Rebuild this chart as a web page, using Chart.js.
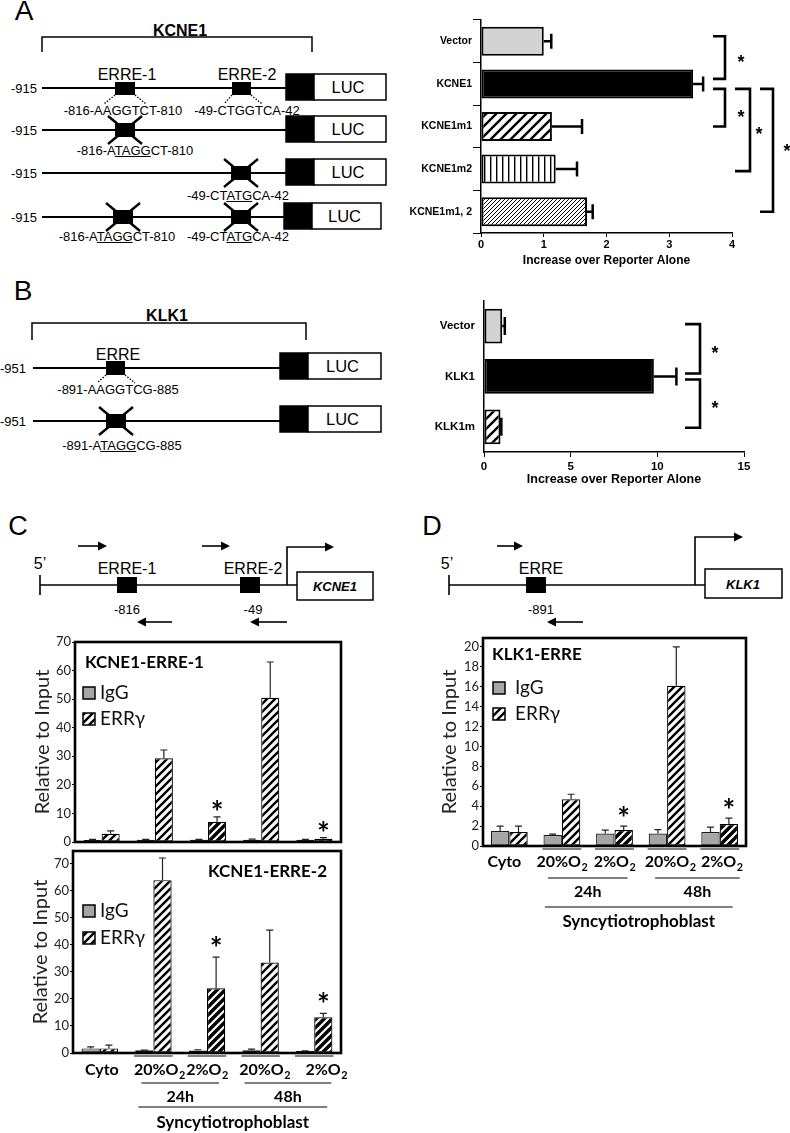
<!DOCTYPE html>
<html><head><meta charset="utf-8">
<script src="https://cdn.jsdelivr.net/npm/chart.js@4.4.1/dist/chart.umd.min.js"></script>
<style>
html,body{margin:0;padding:0;background:#fff;}
#page{position:relative;width:790px;height:1133px;overflow:hidden;background:#fff;}
#page canvas{position:absolute;}
#dia{position:absolute;left:0;top:0;}
</style></head><body>
<div id="page">
<svg id="dia" width="790" height="1133" xmlns="http://www.w3.org/2000/svg"></svg>
<canvas id="cA" width="390" height="270" style="left:400px;top:0px"></canvas>
<canvas id="cB" width="390" height="205" style="left:400px;top:285px"></canvas>
<canvas id="cC1" width="350" height="225" style="left:0px;top:630px"></canvas>
<canvas id="cC2" width="350" height="298" style="left:0px;top:835px"></canvas>
<canvas id="cD" width="390" height="310" style="left:400px;top:625px"></canvas>
</div>
<script>
// ---------------- DATA ----------------
const aCategories = ['Vector', 'KCNE1', 'KCNE1m1', 'KCNE1m2', 'KCNE1m1, 2'];
const aValues = [1.0, 3.38, 1.13, 1.19, 1.69];
const aErrors = [0.12, 0.16, 0.48, 0.34, 0.09];
const aComparisons = [[0, 1], [1, 2], [1, 3], [1, 4]];

const bCategories = ['Vector', 'KLK1', 'KLK1m'];
const bValues = [1.05, 9.8, 0.95];
const bErrors = [0.15, 1.3, 0.05];
const bComparisons = [[0, 1], [1, 2]];

const reporterAxisTitle = 'Increase over Reporter Alone';

const chipCategories = ['Cyto', '20%O2', '2%O2', '20%O2', '2%O2'];
const chipSeries = ['IgG', 'ERRγ'];
const timeGroups = ['24h', '48h'];
const cellType = 'Syncytiotrophoblast';
const chipAxisTitle = 'Relative to Input';

const c1IgG = [0.7, 0.8, 0.8, 0.8, 0.8];
const c1IgGErr = [0.2, 0.1, 0.1, 0.2, 0.1];
const c1ERR = [2.9, 29.3, 7.1, 50.5, 1.1];
const c1ERRErr = [1.0, 2.9, 1.7, 12.5, 0.4];
const c1Sig = [false, false, true, false, true];

const c2IgG = [1.7, 1.0, 0.9, 1.0, 0.7];
const c2IgGErr = [0.6, 0.1, 0.3, 0.4, 0.1];
const c2ERR = [1.7, 64.0, 24.0, 33.5, 13.2];
const c2ERRErr = [1.2, 8.2, 11.5, 12.0, 1.5];
const c2Sig = [false, false, true, false, true];

const dIgG = [1.5, 1.1, 1.25, 1.25, 1.4];
const dIgGErr = [0.5, 0.1, 0.35, 0.4, 0.5];
const dERR = [1.4, 4.7, 1.6, 16.1, 2.2];
const dERRErr = [0.6, 0.5, 0.4, 3.9, 0.6];
const dSig = [false, false, true, false, true];

// ---------------- DIAGRAMS (SVG) ----------------
const NS = 'http://www.w3.org/2000/svg';
const svg = document.getElementById('dia');
const FF = 'Liberation Sans, Arial, sans-serif';
function el(tag, a) { const e = document.createElementNS(NS, tag); for (const k in a) e.setAttribute(k, a[k]); svg.appendChild(e); return e; }
function ln(x1, y1, x2, y2, w = 1.6, dash) { const a = {x1, y1, x2, y2, stroke: '#000', 'stroke-width': w}; if (dash) a['stroke-dasharray'] = dash; return el('line', a); }
function box(x, y, w, h, fill = '#000', sw = 0) { return el('rect', {x, y, width: w, height: h, fill, stroke: '#000', 'stroke-width': sw}); }
function tx(x, y, s, size, o = {}) {
  const base = y + 0.36 * size;
  const t = el('text', {x, y: base, 'font-size': size, 'font-family': FF, 'text-anchor': o.anchor || 'middle',
    'font-weight': o.weight || 'normal', 'font-style': o.style || 'normal', fill: '#000'});
  t.textContent = s;
  if (o.ul) {
    const a = t.getStartPositionOfChar(o.ul[0]).x, b = t.getEndPositionOfChar(o.ul[1]).x;
    ln(a, base + 1.8, b, base + 1.8, 1);
  }
  return t;
}
function xbox(cx, cy) { ln(cx - 17, cy - 14, cx + 17, cy + 14, 2.4); ln(cx - 17, cy + 14, cx + 17, cy - 14, 2.4); box(cx - 10, cy - 7, 20, 14); }
function luc(x, y, w2 = 72) { box(x, y - 13, 28, 26, '#000', 1.5); box(x + 28, y - 13, w2, 26, '#fff', 1.5); tx(x + 28 + w2 / 2 - 2, y, 'LUC', 16.5); }
function arrowR(x1, x2, y) { ln(x1, y, x2 - 6, y, 1.6); el('polygon', {points: `${x2},${y} ${x2 - 9},${y - 4.5} ${x2 - 9},${y + 4.5}`, fill: '#000'}); }
function arrowL(x1, x2, y) { ln(x1, y, x2 + 6, y, 1.6); el('polygon', {points: `${x2},${y} ${x2 + 9},${y - 4.5} ${x2 + 9},${y + 4.5}`, fill: '#000'}); }
function dots(x1, y1, x2, y2) { ln(x1, y1, x2, y2, 1.3, '1.5,1.5'); }

// Panel A diagram
tx(24, 10, 'A', 28);
tx(180, 30, 'KCNE1', 16, {weight: 'bold'});
el('path', {d: 'M42,52 V37 H312 V52', fill: 'none', stroke: '#000', 'stroke-width': 1.5});
[88, 130, 173, 217].forEach((y, i) => {
  tx(37, y, '-915', 13, {anchor: 'end'});
  ln(42, y, 286, y, 1.8);
  if (i === 3) luc(284, y - 1, 69); else luc(286, y - 1);
});
box(115, 82, 20, 13); box(232, 82, 19, 13);
tx(127, 74, 'ERRE-1', 16); tx(247, 74, 'ERRE-2', 16);
dots(115, 95, 104, 104); dots(135, 95, 146, 104); dots(232, 95, 224, 104); dots(251, 95, 262, 104);
tx(123, 110.5, '-816-AAGGTCT-810', 13); tx(247, 110.5, '-49-CTGGTCA-42', 13);
xbox(125, 130); tx(135, 150, '-816-ATAGGCT-810', 13, {ul: [6, 9]});
xbox(241, 173); tx(238, 195, '-49-CTATGCA-42', 13, {ul: [6, 8]});
xbox(123, 217); xbox(241, 217);
tx(117, 236, '-816-ATAGGCT-810', 13, {ul: [6, 9]}); tx(238, 236, '-49-CTATGCA-42', 13, {ul: [6, 8]});

// Panel B diagram
tx(23, 290, 'B', 28);
tx(167, 315, 'KLK1', 16, {weight: 'bold'});
el('path', {d: 'M32,340 V323 H306 V340', fill: 'none', stroke: '#000', 'stroke-width': 1.5});
[368, 421].forEach(y => { tx(26, y, '-951', 13, {anchor: 'end'}); ln(33, y, 280, y, 1.8); luc(280, y - 2, 73); });
box(106, 361, 19, 14);
tx(118, 354, 'ERRE', 16);
dots(106, 375, 97, 383); dots(125, 375, 135, 383);
tx(118, 389, '-891-AAGGTCG-885', 13);
xbox(116, 421); tx(122, 445, '-891-ATAGGCG-885', 13, {ul: [6, 9]});

// Panel C diagram
tx(18, 525, 'C', 27);
arrowR(78, 107, 546); arrowR(202, 230, 546);
tx(40, 563, '5\u2019', 16);
ln(40, 585, 297, 585, 1.6); ln(40, 575, 40, 595, 1.6);
box(117, 577, 20, 16); box(240, 577, 20, 16);
tx(127, 568, 'ERRE-1', 16); tx(253, 568, 'ERRE-2', 16);
el('path', {d: 'M287,585 V547 H327', fill: 'none', stroke: '#000', 'stroke-width': 1.6});
el('polygon', {points: '334,547 325,542.5 325,551.5', fill: '#000'});
box(297, 572, 76, 28, '#fff', 1.5);
tx(335, 586, 'KCNE1', 13, {weight: 'bold', style: 'italic'});
tx(127, 609, '-816', 13); tx(253, 609, '-49', 13);
arrowL(172, 137, 622); arrowL(287, 250, 622);

// Panel D diagram
tx(432, 525, 'D', 27);
arrowR(497, 523, 546);
tx(447, 563, '5\u2019', 16);
ln(449, 585, 705, 585, 1.6); ln(449, 575, 449, 595, 1.6);
box(526, 577, 20, 16);
tx(541, 568, 'ERRE', 16);
el('path', {d: 'M695,585 V537 H736', fill: 'none', stroke: '#000', 'stroke-width': 1.6});
el('polygon', {points: '743,537 734,532.5 734,541.5', fill: '#000'});
box(705, 569, 77, 29, '#fff', 1.5);
tx(743, 584, 'KLK1', 13, {weight: 'bold', style: 'italic'});
tx(541, 609, '-891', 13);
arrowL(583, 547, 622);

// ---------------- PATTERNS ----------------
function diagPattern(s, lw, fg, bg) {
  const c = document.createElement('canvas'); c.width = s; c.height = s;
  const x = c.getContext('2d');
  x.fillStyle = bg; x.fillRect(0, 0, s, s);
  x.strokeStyle = fg; x.lineWidth = lw;
  x.beginPath();
  x.moveTo(-1, s + 1); x.lineTo(s + 1, -1);
  x.moveTo(-s / 2 - 1, s / 2 + 1); x.lineTo(s / 2 + 1, -s / 2 - 1);
  x.moveTo(s / 2 - 1, s * 1.5 + 1); x.lineTo(s * 1.5 + 1, s / 2 - 1);
  x.stroke();
  return x.createPattern(c, 'repeat');
}
function vertPattern(s, lw) {
  const c = document.createElement('canvas'); c.width = s; c.height = s;
  const x = c.getContext('2d');
  x.fillStyle = '#fff'; x.fillRect(0, 0, s, s);
  x.fillStyle = '#000'; x.fillRect(0, 0, lw, s);
  return x.createPattern(c, 'repeat');
}
const patWide = diagPattern(10, 2.4, '#000', '#fff');
const patFine = diagPattern(4, 1.0, '#000', '#fff');
const patVert = vertPattern(6, 1.4);
const patLight = diagPattern(8, 2.4, '#000', '#fff');
const patDark = diagPattern(8, 2.2, '#fff', '#000');

// ---------------- PLUGINS ----------------
const errorBars = {
  id: 'errbars',
  afterDatasetsDraw(chart, args, o) {
    const {ctx} = chart; const horiz = chart.options.indexAxis === 'y';
    chart.data.datasets.forEach((ds, di) => {
      if (!ds.errors) return;
      const meta = chart.getDatasetMeta(di);
      const vs = horiz ? chart.scales.x : chart.scales.y;
      meta.data.forEach((bar, i) => {
        const v = ds.data[i], e = ds.errors[i]; if (!e) return;
        const p0 = vs.getPixelForValue(v), p1 = vs.getPixelForValue(v + e);
        ctx.save(); ctx.strokeStyle = o.color; ctx.lineWidth = o.width; ctx.beginPath();
        if (horiz) { ctx.moveTo(p0, bar.y); ctx.lineTo(p1, bar.y); ctx.moveTo(p1, bar.y - o.cap); ctx.lineTo(p1, bar.y + o.cap); }
        else { ctx.moveTo(bar.x, p0); ctx.lineTo(bar.x, p1); ctx.moveTo(bar.x - o.cap, p1); ctx.lineTo(bar.x + o.cap, p1); }
        ctx.stroke(); ctx.restore();
      });
    });
  }
};
const brackets = {
  id: 'brackets',
  afterDraw(chart, args, o) {
    const {ctx, chartArea: ca} = chart; const ys = chart.scales.y;
    ctx.save(); ctx.strokeStyle = '#000'; ctx.fillStyle = '#000'; ctx.lineWidth = o.lw; ctx.lineJoin = 'miter';
    o.pairs.forEach((p, k) => {
      const st = o.style[k];
      const y0 = ys.getPixelForValue(p[0]) + st.dy[0], y1 = ys.getPixelForValue(p[1]) + st.dy[1];
      const xv = ca.right + st.x, xa = xv - st.arm;
      ctx.beginPath(); ctx.moveTo(xa, y0); ctx.lineTo(xv, y0); ctx.lineTo(xv, y1); ctx.lineTo(xa, y1); ctx.stroke();
      ctx.font = 'bold ' + o.star + 'px "Liberation Sans"'; ctx.textAlign = 'center'; ctx.textBaseline = 'alphabetic';
      ctx.fillText('*', xv + st.sx, (y0 + y1) / 2 + st.sy + 0.58 * o.star);
    });
    ctx.restore();
  }
};
function drawSubLabel(ctx, lab, cx, cy, size) {
  let main = lab, sub = '';
  if (/O2$/.test(lab)) { main = lab.slice(0, -1); sub = '2'; }
  ctx.font = 'bold ' + size + 'px Lato'; const w1 = ctx.measureText(main).width;
  ctx.font = 'bold ' + (size * 0.68) + 'px Lato'; const w2 = sub ? ctx.measureText(sub).width : 0;
  const x0 = cx - (w1 + w2) / 2;
  ctx.textAlign = 'left'; ctx.textBaseline = 'middle';
  ctx.font = 'bold ' + size + 'px Lato'; ctx.fillText(main, x0, cy);
  if (sub) { ctx.font = 'bold ' + (size * 0.68) + 'px Lato'; ctx.fillText(sub, x0 + w1 + 0.5, cy + size * 0.32); }
}
const chipDecor = {
  id: 'chipDecor',
  afterDraw(chart, args, o) {
    const {ctx, chartArea: ca} = chart;
    ctx.save();
    ctx.strokeStyle = '#000'; ctx.lineWidth = 2.6; ctx.strokeRect(ca.left, ca.top, ca.width, ca.height);
    // title
    ctx.font = 'bold 17px Lato'; ctx.fillStyle = '#000'; ctx.textBaseline = 'middle';
    ctx.textAlign = o.titleAlign;
    ctx.fillText(o.title, o.titleAlign === 'left' ? ca.left + o.titleX : ca.right - o.titleX, ca.top + o.titleY);
    // legend
    chart.data.datasets.forEach((ds, i) => {
      const y = ca.top + o.legY + i * o.legGap, x = ca.left + o.legX;
      ctx.fillStyle = Array.isArray(ds.backgroundColor) ? ds.backgroundColor[1] : ds.backgroundColor;
      ctx.fillRect(x, y, 12, 12); ctx.lineWidth = 1.5; ctx.strokeStyle = '#000'; ctx.strokeRect(x, y, 12, 12);
      ctx.fillStyle = '#111'; ctx.font = '19px Lato'; ctx.textAlign = 'left'; ctx.textBaseline = 'middle';
      ctx.fillText(ds.label, x + o.legText, y + 6);
    });
    // significance stars
    const m = chart.getDatasetMeta(1), ds = chart.data.datasets[1], ys = chart.scales.y;
    const SF = 30;
    ctx.fillStyle = '#000'; ctx.font = 'bold ' + SF + 'px Lato'; ctx.textAlign = 'center'; ctx.textBaseline = 'alphabetic';
    o.sig.forEach((s, i) => { if (!s) return; const top = ys.getPixelForValue(ds.data[i] + ds.errors[i]); ctx.fillText('*', m.data[i].x, top - o.starGap + 0.57 * SF); });
    // category labels below
    if (o.axis) {
      const A = o.axis, xs = chart.scales.x, m0 = chart.getDatasetMeta(0);
      ctx.strokeStyle = '#808080'; ctx.lineWidth = 1.8;
      for (let i = 1; i < chipCategories.length; i++) {
        const a = m0.data[i], b = m.data[i];
        ctx.beginPath(); ctx.moveTo(a.x - a.width / 2 - 1, ca.bottom + A.ulY); ctx.lineTo(b.x + b.width / 2 + 1, ca.bottom + A.ulY); ctx.stroke();
      }
      ctx.fillStyle = '#000';
      chipCategories.forEach((lab, i) => drawSubLabel(ctx, lab, xs.getPixelForValue(i) + (A.lx ? A.lx[i] : 0), ca.bottom + A.labelY, 16));
      ctx.strokeStyle = '#000'; ctx.lineWidth = 1.2;
      timeGroups.forEach((g, k) => {
        const i0 = 1 + 2 * k, i1 = 2 + 2 * k;
        const x0 = xs.getPixelForValue(i0) + A.gpad[k][0], x1 = xs.getPixelForValue(i1) + A.gpad[k][1];
        ctx.beginPath(); ctx.moveTo(x0, ca.bottom + A.gLineY); ctx.lineTo(x1, ca.bottom + A.gLineY); ctx.stroke();
        ctx.font = 'bold 16px Lato'; ctx.textAlign = 'center'; ctx.textBaseline = 'middle';
        ctx.fillText(g, (x0 + x1) / 2, ca.bottom + A.gTextY);
      });
      const s0 = xs.getPixelForValue(1) + A.spad[0], s1 = xs.getPixelForValue(4) + A.spad[1];
      ctx.beginPath(); ctx.moveTo(s0, ca.bottom + A.sLineY); ctx.lineTo(s1, ca.bottom + A.sLineY); ctx.stroke();
      ctx.font = 'bold 17px Lato'; ctx.textAlign = 'center'; ctx.textBaseline = 'middle';
      ctx.fillText(cellType, (s0 + s1) / 2, ca.bottom + A.sTextY);
    }
    ctx.restore();
  }
};

Chart.defaults.animation = false;
Chart.defaults.events = [];

// ---------------- PANEL A CHART ----------------
const arial = (size, w = 'bold') => ({family: 'Liberation Sans', size, weight: w});
new Chart(document.getElementById('cA'), {
  type: 'bar',
  data: {labels: aCategories, datasets: [{data: aValues, errors: aErrors,
    backgroundColor: ['#d3d3d3', '#000', patWide, patVert, patFine], borderColor: '#000', borderWidth: 2, borderSkipped: false,
    categoryPercentage: 1, barPercentage: 0.68}]},
  options: {indexAxis: 'y', responsive: false, layout: {padding: {top: 20, right: 58, left: 0, bottom: 0}},
    plugins: {legend: {display: false}, tooltip: {enabled: false},
      errbars: {color: '#000', width: 2.5, cap: 7.5},
      brackets: {lw: 2.6, star: 18, pairs: aComparisons, style: [
        {x: -7, arm: 12, dy: [-5, -5], sx: 16, sy: 0},
        {x: -7, arm: 12, dy: [5, 0], sx: 16, sy: 5},
        {x: 18, arm: 15, dy: [5, 2], sx: 9, sy: 0},
        {x: 41, arm: 13, dy: [5, 0], sx: 14, sy: -4}]}},
    scales: {
      x: {min: 0, max: 4, ticks: {stepSize: 1, font: arial(11), color: '#000', padding: 1},
        grid: {drawOnChartArea: false, tickLength: 4, tickColor: '#000'}, border: {color: '#000', width: 1.5},
        title: {display: true, text: reporterAxisTitle, font: arial(12), color: '#000', padding: {top: 0, bottom: 2}},
        afterFit(s) { s.height = 37; }},
      y: {ticks: {font: arial(10.5), color: '#000', padding: 1},
        grid: {drawOnChartArea: false, tickLength: 8, tickColor: '#000'}, border: {color: '#000', width: 1.5},
        afterFit(s) { s.width = 81; }}
    }},
  plugins: [errorBars, brackets]
});

// ---------------- PANEL B CHART ----------------
new Chart(document.getElementById('cB'), {
  type: 'bar',
  data: {labels: bCategories, datasets: [{data: bValues, errors: bErrors,
    backgroundColor: ['#d3d3d3', '#000', patWide], borderColor: '#000', borderWidth: 2, borderSkipped: false,
    categoryPercentage: 1, barPercentage: 0.69}]},
  options: {indexAxis: 'y', responsive: false, layout: {padding: {top: 10, right: 46, left: 0, bottom: 0}},
    plugins: {legend: {display: false}, tooltip: {enabled: false},
      errbars: {color: '#000', width: 2.5, cap: 9},
      brackets: {lw: 2.6, star: 18, pairs: bComparisons, style: [
        {x: -44, arm: 15, dy: [-2, -3], sx: 15, sy: 0},
        {x: -44, arm: 15, dy: [3, 1], sx: 15, sy: 0}]}},
    scales: {
      x: {min: 0, max: 15, ticks: {stepSize: 5, font: arial(11.5), color: '#000', padding: 3},
        grid: {drawOnChartArea: false, tickLength: 5, tickColor: '#000'}, border: {color: '#000', width: 1.5},
        title: {display: true, text: reporterAxisTitle, font: arial(12.5), color: '#000', padding: {top: 0, bottom: 3}},
        afterFit(s) { s.height = 38; }},
      y: {ticks: {font: arial(11.5), color: '#000', padding: 9},
        grid: {drawOnChartArea: false, drawTicks: false}, border: {color: '#000', width: 1.5},
        afterFit(s) { s.width = 84; }}
    }},
  plugins: [errorBars, brackets]
});

// ---------------- ChIP CHARTS ----------------
function chipChart(id, c) {
  return new Chart(document.getElementById(id), {
    type: 'bar',
    data: {labels: chipCategories, datasets: [
      {label: chipSeries[0], data: c.igg, errors: c.iggErr, backgroundColor: '#a6a6a6', borderColor: '#1a1a1a', borderWidth: 1.2,
        borderSkipped: false, categoryPercentage: c.cat, barPercentage: 1},
      {label: chipSeries[1], data: c.err, errors: c.errErr, backgroundColor: chipCategories.map(k => k === '2%O2' ? patDark : patLight),
        borderColor: '#000', borderWidth: 1.2, borderSkipped: false, categoryPercentage: c.cat, barPercentage: 1}
    ]},
    options: {responsive: false, layout: {padding: c.padding},
      plugins: {legend: {display: false}, tooltip: {enabled: false},
        errbars: {color: '#222', width: 1.2, cap: 3.5},
        chipDecor: c.decor},
      scales: {
        x: {display: false},
        y: {min: 0, max: c.max, ticks: {font: {family: 'Lato', size: 13}, color: '#222', padding: 1},
          afterBuildTicks(s) { const t = []; for (let v = 0; v <= c.tickMax + 1e-6; v += c.step) t.push({value: v}); s.ticks = t; },
          grid: {drawOnChartArea: false, tickLength: 3, tickColor: '#000'}, border: {display: false},
          title: {display: true, text: chipAxisTitle, font: {family: 'Lato', size: 20}, color: '#222', padding: {top: c.titlePad, bottom: 0}},
          afterFit(s) { s.width = c.yWidth; }}
      }},
    plugins: [errorBars, chipDecor]
  });
}
chipChart('cC1', {igg: c1IgG, iggErr: c1IgGErr, err: c1ERR, errErr: c1ERRErr, cat: 0.68,
  max: 70, step: 10, tickMax: 70, yWidth: 75, titlePad: 31, padding: {top: 12, right: 9, bottom: 13, left: 0},
  decor: {title: 'KCNE1-ERRE-1', titleAlign: 'left', titleX: 10, titleY: 21, legX: 8, legY: 45, legGap: 26, legText: 17, sig: c1Sig, starGap: 11}});
chipChart('cC2', {igg: c2IgG, iggErr: c2IgGErr, err: c2ERR, errErr: c2ERRErr, cat: 0.68,
  max: 74.8, step: 10, tickMax: 70, yWidth: 73, titlePad: 29, padding: {top: 16, right: 9, bottom: 80, left: 0},
  decor: {title: 'KCNE1-ERRE-2', titleAlign: 'right', titleX: 14, titleY: 21, legX: 10, legY: 54, legGap: 27, legText: 17, sig: c2Sig, starGap: 15,
    axis: {ulY: 3, labelY: 17, gLineY: 30, gTextY: 44, sLineY: 54, sTextY: 70, lx: [2, 6, 0, 4, 12],
      gpad: [[-12, 12], [-16, 17]], spad: [-15, 13]}}});
chipChart('cD', {igg: dIgG, iggErr: dIgGErr, err: dERR, errErr: dERRErr, cat: 0.70,
  max: 20.9, step: 2, tickMax: 20, yWidth: 83, titlePad: 38, padding: {top: 13, right: 44, bottom: 89, left: 0},
  decor: {title: 'KLK1-ERRE', titleAlign: 'left', titleX: 9, titleY: 17, legX: 10, legY: 44, legGap: 26, legText: 22, sig: dSig, starGap: 14,
    axis: {ulY: 3, labelY: 16, gLineY: 32, gTextY: 46, sLineY: 61, sTextY: 76, lx: [-5, 0, 0, 3, 2],
      gpad: [[-14, 13], [-12, 20]], spad: [-17, 13]}}});
</script>
</body></html>
